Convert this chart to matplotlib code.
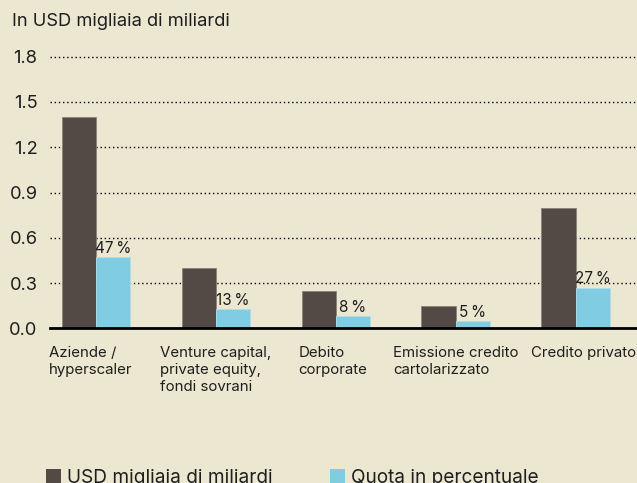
import numpy as np
import matplotlib
matplotlib.use("Agg")
import matplotlib.pyplot as plt
import matplotlib.transforms as mtransforms
from matplotlib.patches import Patch

plt.rcParams["font.family"] = ["Inter", "DejaVu Sans"]

categories = ["Aziende /\nhyperscaler",
              "Venture capital,\nprivate equity,\nfondi sovrani",
              "Debito\ncorporate",
              "Emissione credito\ncartolarizzato",
              "Credito privato"]
usd_values = [1.4, 0.4, 0.25, 0.15, 0.8]
share_pct = [47, 13, 8, 5, 27]
yticks = [0.0, 0.3, 0.6, 0.9, 1.2, 1.5, 1.8]

bg = "#ECE7D1"
dark = "#534A45"
light = "#80CDE3"
txt = "#1E1E1E"

fig = plt.figure(figsize=(6.37, 4.83), dpi=100, facecolor=bg)
ax = fig.add_axes([0.0785, 0.3203, 0.9215, 0.5779], facecolor=bg)

x = np.arange(len(categories))
w = 0.286
share = np.array(share_pct) / 100

ax.bar(x - w / 2, usd_values, w, color=dark, edgecolor="#8A827C", linewidth=0.6, zorder=3)
ax.bar(x + w / 2, share, w, color=light, edgecolor="#B5DCE6", linewidth=0.6, zorder=3)

for xi, v, p in zip(x, share, share_pct):
    ax.text(xi + w / 2, v + 0.027, f"{p}\u2009%", ha="center", va="baseline",
            fontsize=11, color=txt, zorder=4)

ax.set_xlim(-0.383, 4.511)
ax.set_ylim(0, 1.85)
ax.set_yticks(yticks)
ax.set_yticklabels([f"{t:.1f}" for t in yticks])
ax.yaxis.grid(True, linestyle=(0, (1, 2)), color="black", linewidth=1.0, zorder=1)
ax.tick_params(axis="y", length=0, pad=9, labelsize=13.2, labelcolor=txt)

ax.set_xticks(x)
ax.set_xticklabels(categories)
ax.tick_params(axis="x", length=0, pad=13, labelsize=10.8, labelcolor=txt)
# small horizontal nudges so labels sit like the original
nudges = [-5, 0, -3, 0, 8]
for lab, dx in zip(ax.get_xticklabels(), nudges):
    lab.set_multialignment("left")
    lab.set_linespacing(1.25)
    lab.set_transform(lab.get_transform() +
                      mtransforms.ScaledTranslation(dx / 100, 0, fig.dpi_scale_trans))

for s in ["top", "right", "left"]:
    ax.spines[s].set_visible(False)
ax.spines["bottom"].set_color("black")
ax.spines["bottom"].set_linewidth(2)
ax.spines["bottom"].set_zorder(5)

fig.text(12 / 637, 1 - 26 / 483, "In USD migliaia di miliardi", fontsize=13.2,
         color=txt, ha="left", va="baseline")

handles = [Patch(facecolor=dark, edgecolor="none", label="USD migliaia di miliardi"),
           Patch(facecolor=light, edgecolor="none", label="Quota in percentuale")]
fig.legend(handles=handles, loc="lower left", bbox_to_anchor=(46 / 637, -4 / 483),
           ncol=2, frameon=False, fontsize=13.7, handlelength=0.8, handleheight=0.8,
           handletextpad=0.3, columnspacing=3.0, borderpad=0, borderaxespad=0,
           labelcolor=txt)

fig.savefig("out.png", dpi=100, facecolor=bg)
